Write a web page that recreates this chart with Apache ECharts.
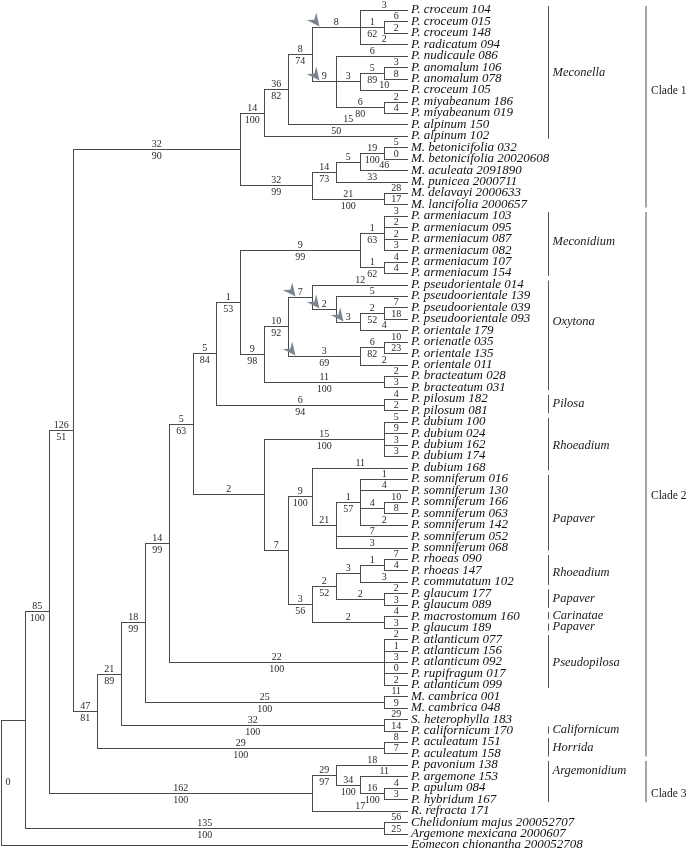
<!DOCTYPE html>
<html>
<head>
<meta charset="utf-8">
<script src="https://cdn.jsdelivr.net/npm/echarts@6/dist/echarts.min.js"></script>
<style>
html,body{margin:0;padding:0;background:#fff;}
#chart{width:689px;height:853px;}
</style>
</head>
<body>
<div id="chart"></div>
<script>
// ---------- DATA (Newick topology; branch labels = "length/bootstrap", ^ = arrow-marked branch) ----------
const clade1Newick =
  "(((((P. croceum 104:3,(P. croceum 015:6,P. croceum 148:2):1/62,P. radicatum 094:2):^8," +
  "(P. nudicaule 086:6,((P. anomalum 106:3,P. anomalum 078:8):5/89,P. croceum 105:10):3," +
  "(P. miyabeanum 186:2,P. miyabeanum 019:4):6/80):^9):8/74,P. alpinum 150:15):36/82,P. alpinum 102:50):14/100," +
  "((((M. betonicifolia 032:5,M. betonicifolia 20020608:0):19/100,M. aculeata 2091890:46):5,M. punicea 2000711:33):14/73," +
  "(M. delavayi 2000633:28,M. lancifolia 2000657:17):21/100):32/99)";

const meconidiumNewick =
  "((P. armeniacum 103:3,P. armeniacum 095:2,P. armeniacum 087:2,P. armeniacum 082:3):1/63," +
  "(P. armeniacum 107:4,P. armeniacum 154:4):1/62)";

const oxytonaNewick =
  "(((P. pseudorientale 014:12,(P. pseudoorientale 139:5,((P. pseudoorientale 039:7,P. pseudoorientale 093:18):2/52," +
  "P. orientale 179:4):^3):^2):^7,((P. orienatle 035:10,P. orientale 135:23):6/82,P. orientale 011:2):^3/69):10/92," +
  "(P. bracteatum 028:2,P. bracteatum 031:3):11/100)";

const rhoeadiumNewick =
  "((P. dubium 100:5,P. dubium 024:9,P. dubium 162:3,P. dubium 174:3):15/100," +
  "((P. dubium 168:11,((P. somniferum 016:1,P. somniferum 130:4,(P. somniferum 166:10,P. somniferum 063:8):4," +
  "P. somniferum 142:2):1/57,P. somniferum 052:7,P. somniferum 068:3):21):9/100," +
  "((((P. rhoeas 090:7,P. rhoeas 147:4):1,P. commutatum 102:3):3,(P. glaucum 177:2,P. glaucum 089:3):2):2/52," +
  "(P. macrostomum 160:4,P. glaucum 189:3):2):3/56):7)";

const clade2Newick =
  "(((((((" + meconidiumNewick + ":9/99," + oxytonaNewick + ":9/98):1/53,(P. pilosum 182:4,P. pilosum 081:2):6/94):5/84," +
  rhoeadiumNewick + ":2):5/63," +
  "(P. atlanticum 077:2,P. atlanticum 156:1,P. atlanticum 092:3,P. rupifragum 017:0,P. atlanticum 099:2):22/100):14/99," +
  "(M. cambrica 001:11,M. cambrica 048:9):25/100):18/99,(S. heterophylla 183:29,P. californicum 170:14):32/100):21/89," +
  "(P. aculeatum 151:8,P. aculeatum 158:7):29/100)";

const clade3Newick =
  "((P. pavonium 138:18,(P. argemone 153:11,(P. apulum 084:4,P. hybridum 167:3):16/100):34/100):29/97,R. refracta 171:17)";

const outgroupNewick = "(Chelidonium majus 200052707:56,Argemone mexicana 2000607:25)";
const rootLeaf = "Eomecon chionantha 200052708";

const treeNewick = "((((" + clade1Newick + ":32/90," + clade2Newick + ":47/81):126/51," + clade3Newick + ":162/100):85/100," +
  outgroupNewick + ":135/100)," + rootLeaf + "):0";

// subgenus brackets: [name, first leaf, last leaf] (1-based leaf numbers)
const sectionNames = ["Meconella","Meconidium","Oxytona","Pilosa","Rhoeadium","Papaver","Rhoeadium","Papaver","Carinatae","Papaver","Pseudopilosa","Californicum","Horrida","Argemonidium"];
const sectionFirst = [1,19,25,35,37,42,49,52,54,55,56,64,65,67];
const sectionLast  = [12,24,34,36,41,48,51,53,54,55,60,64,66,70];
const cladeNames = ["Clade 1","Clade 2","Clade 3"];
const cladeFirst = [1,19,67];
const cladeLast  = [18,66,70];

// ---------- LAYOUT HELPERS ----------
const sectionLabelShift = [0,-2,-14,0,2,6,3,0,0,0,1,0,0,-11];
const cladeLabelShift = [-16,12,12];

function parseNewick(s) {
  let i = 0;
  function node() {
    const n = {children: [], name: '', label: ''};
    if (s[i] === '(') {
      i++;
      n.children.push(node());
      while (s[i] === ',') { i++; n.children.push(node()); }
      i++;
    } else {
      const st = i;
      while (i < s.length && ',():'.indexOf(s[i]) < 0) i++;
      n.name = s.slice(st, i).trim();
    }
    if (s[i] === ':') {
      i++;
      const st = i;
      while (i < s.length && ',()'.indexOf(s[i]) < 0) i++;
      n.label = s.slice(st, i).trim();
    }
    n.children.forEach(c => c.parent = n);
    return n;
  }
  return node();
}

const root = parseNewick(treeNewick);
const leafNames = [];
const allNodes = [];
function layout(n) {
  allNodes.push(n);
  if (!n.children.length) {
    n.y = leafNames.length; leafNames.push(n.name); n.lv = 0;
  } else {
    n.children.forEach(layout);
    n.lv = Math.min.apply(null, n.children.map(c => c.lv)) - 1;
    n.y = (n.children[0].y + n.children[n.children.length - 1].y) / 2;
  }
}
layout(root);
const rootLv = root.lv;
allNodes.forEach(n => n.lv = n.lv - rootLv);
const maxLv = -rootLv;

const FONT = "'Liberation Serif','Times New Roman',serif";
const LINE = '#4a4a4a';

function px(v) { return Math.round(v) + 0.5; }

function arrowShape(tx, ty) {
  const a = 52 * Math.PI / 180;
  const dx = Math.cos(a), dy = Math.sin(a);
  const nx = -dy, ny = dx;
  const L = 13, W = 6, N = 8.5;
  const bx = tx - L * dx, by = ty - L * dy;
  return [[tx, ty], [bx + W * nx, by + W * ny], [tx - N * dx, ty - N * dy], [bx - W * nx, by - W * ny]];
}

function renderTree(params, api) {
  const n = allNodes[params.dataIndex];
  const els = [];
  const p = api.coord([n.lv, n.y]);
  const yy = px(p[1]);
  if (n.parent) {
    const pp = api.coord([n.parent.lv, n.y]);
    const x1 = px(pp[0]), x2 = Math.round(p[0]);
    els.push({type: 'line', shape: {x1: x1, y1: yy, x2: x2, y2: yy}, style: {stroke: LINE, lineWidth: 1}});
    if (n.label) {
      let lab = n.label, arrow = false;
      if (lab[0] === '^') { arrow = true; lab = lab.slice(1); }
      const parts = lab.split('/');
      const mx = (x1 + x2) / 2;
      els.push({type: 'text', style: {x: mx, y: yy - 5.5, text: parts[0], fill: '#2a2a2a', font: '10px ' + FONT, align: 'center', verticalAlign: 'middle'}});
      if (parts[1]) {
        els.push({type: 'text', style: {x: mx, y: yy + 7, text: parts[1], fill: '#2a2a2a', font: '10px ' + FONT, align: 'center', verticalAlign: 'middle'}});
      }
      if (arrow) {
        els.push({type: 'polygon', shape: {points: arrowShape(x1 + 7, yy - 1)}, style: {fill: '#7c858f'}});
      }
    }
  } else if (n.label) {
    els.push({type: 'text', style: {x: px(p[0]) + 4, y: yy, text: n.label, fill: '#2a2a2a', font: '10px ' + FONT, align: 'left', verticalAlign: 'middle'}});
  }
  if (n.children.length) {
    const a = api.coord([n.lv, n.children[0].y]);
    const b = api.coord([n.lv, n.children[n.children.length - 1].y]);
    els.push({type: 'line', shape: {x1: px(a[0]), y1: px(a[1]) - 0.5, x2: px(a[0]), y2: px(b[1]) + 0.5}, style: {stroke: LINE, lineWidth: 1}});
  }
  return {type: 'group', children: els};
}

function bracketRenderer(names, firsts, lasts, shifts, xPix, textGap, font, color, width) {
  return function (params, api) {
    const i = params.dataIndex;
    const a = api.coord([maxLv, firsts[i] - 1]);
    const b = api.coord([maxLv, lasts[i] - 1]);
    const y1 = a[1] - 4, y2 = b[1] + 3;
    return {type: 'group', children: [
      {type: 'line', shape: {x1: xPix, y1: y1, x2: xPix, y2: y2}, style: {stroke: color, lineWidth: width}},
      {type: 'text', style: {x: xPix + textGap, y: (y1 + y2) / 2 + shifts[i], text: names[i], fill: '#1a1a1a',
        font: font, align: 'left', verticalAlign: 'middle'}}
    ]};
  };
}

const chart = echarts.init(document.getElementById('chart'), null, {renderer: 'canvas'});
chart.setOption({
  animation: false,
  backgroundColor: '#fff',
  grid: {left: 1, top: 4.28, width: 407, height: 846.4, outerBoundsMode: 'none', containLabel: false},
  xAxis: {type: 'value', min: 0, max: maxLv, show: false},
  yAxis: [
    {type: 'category', data: leafNames, inverse: true, position: 'right',
      axisLine: {show: false}, axisTick: {show: false}, splitLine: {show: false},
      axisLabel: {interval: 0, margin: 3, color: '#111', fontFamily: FONT, fontStyle: 'italic', fontSize: 13,
        padding: [4, 0, 0, 0]}},
    {type: 'value', min: -0.5, max: leafNames.length - 0.5, inverse: true, show: false}
  ],
  series: [
    {type: 'custom', coordinateSystem: 'cartesian2d', xAxisIndex: 0, yAxisIndex: 1, clip: false, silent: true,
      data: allNodes.map(n => [n.lv, n.y]), encode: {x: 0, y: 1}, renderItem: renderTree},
    {type: 'custom', coordinateSystem: 'cartesian2d', xAxisIndex: 0, yAxisIndex: 1, clip: false, silent: true,
      data: sectionNames.map((s, i) => [maxLv, sectionFirst[i] - 1]), encode: {x: 0, y: 1},
      renderItem: bracketRenderer(sectionNames, sectionFirst, sectionLast, sectionLabelShift, 548.5, 4,
        'italic 12.5px ' + FONT, '#555', 1)},
    {type: 'custom', coordinateSystem: 'cartesian2d', xAxisIndex: 0, yAxisIndex: 1, clip: false, silent: true,
      data: cladeNames.map((s, i) => [maxLv, cladeFirst[i] - 1]), encode: {x: 0, y: 1},
      renderItem: bracketRenderer(cladeNames, cladeFirst, cladeLast, cladeLabelShift, 646, 5,
        '11.5px ' + FONT, '#888', 1.5)}
  ]
});
</script>
</body>
</html>
